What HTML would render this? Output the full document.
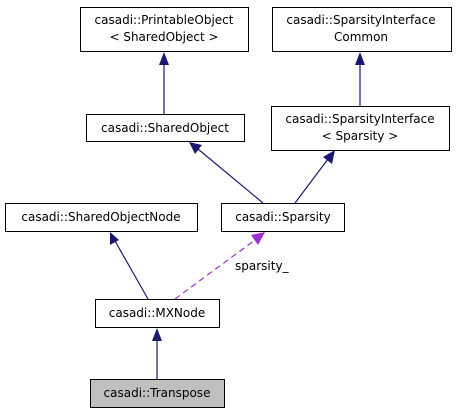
<!DOCTYPE html>
<html><head><style>
body{margin:0;background:#fff}
svg text{font-family:"DejaVu Sans","Liberation Sans",sans-serif;font-size:12px;fill:#000}
</style></head><body>
<svg width="456" height="413" viewBox="0 0 456 413" xmlns="http://www.w3.org/2000/svg">
<g stroke="#191970" stroke-width="1.2" fill="none">
<line x1="164" y1="114" x2="164" y2="62"/>
<line x1="360" y1="106" x2="360" y2="62"/>
<line x1="263" y1="203" x2="198" y2="149"/>
<line x1="295" y1="203" x2="328" y2="159"/>
<line x1="148" y1="299" x2="115" y2="241"/>
<line x1="157" y1="379" x2="157" y2="338"/>
</g>
<g fill="#191970">
<polygon points="164,52 159,65 169,65"/>
<polygon points="360,52 355,65 365,65"/>
<polygon points="189,142 195,154 202,145"/>
<polygon points="335,150 323,157 332,164"/>
<polygon points="110,232 110,245 119,240"/>
<polygon points="157,328 152,341 162,341"/>
</g>
<line x1="175" y1="299" x2="255" y2="240" stroke="#9a32cd" stroke-width="1.2" stroke-dasharray="6,4"/>
<polygon points="265,232 251,235 258,245" fill="#9a32cd"/>
<text x="235" y="270">sparsity_</text>
<g stroke="#000" stroke-width="1" fill="#fff">
<rect x="80.5" y="7.5" width="168" height="44"/>
<rect x="272.5" y="7.5" width="179" height="44"/>
<rect x="86.5" y="114.5" width="158" height="27"/>
<rect x="271.5" y="106.5" width="178" height="44"/>
<rect x="5.5" y="203.5" width="192" height="28"/>
<rect x="221.5" y="203.5" width="123" height="28"/>
<rect x="95.5" y="299.5" width="124" height="28"/>
<rect x="90.5" y="379.5" width="134" height="28" fill="#bfbfbf"/>
</g>
<g text-anchor="middle">
<text x="164" y="24">casadi::PrintableObject</text>
<text x="164" y="41">&lt; SharedObject &gt;</text>
<text x="361" y="24">casadi::SparsityInterface</text>
<text x="361" y="41">Common</text>
<text x="165" y="132">casadi::SharedObject</text>
<text x="360" y="123">casadi::SparsityInterface</text>
<text x="360" y="140">&lt; Sparsity &gt;</text>
<text x="101" y="221">casadi::SharedObjectNode</text>
<text x="283" y="221">casadi::Sparsity</text>
<text x="157" y="317">casadi::MXNode</text>
<text x="157" y="397">casadi::Transpose</text>
</g>
</svg>
</body></html>
